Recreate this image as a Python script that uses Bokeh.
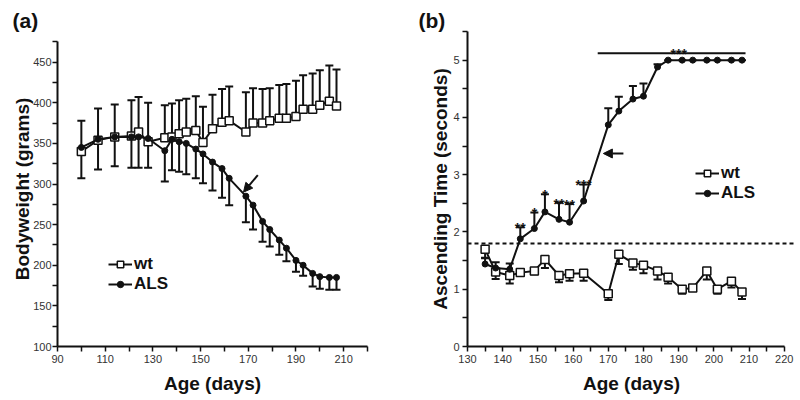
from bokeh.plotting import figure
from bokeh.layouts import row
from bokeh.models import (ColumnDataSource, Whisker, TeeHead, FixedTicker, Span,
                          Arrow, NormalHead, Legend, LegendItem)
from bokeh.core.properties import value
from bokeh.embed import file_html
from bokeh.resources import INLINE

FONT = "Liberation Sans"

# ---------------- Panel (a): body weight ----------------
a_days = [100, 107, 114, 121, 124, 128, 135, 138, 141, 144, 148, 151, 155, 159,
          162, 169, 172, 176, 179, 183, 186, 190, 193, 197, 200, 204, 207]
a_wt = [340, 354, 358, 359, 364, 352, 357, 358, 362, 364, 366, 351, 368, 376,
        378, 364, 375, 375, 378, 381, 381, 383, 392, 392, 397, 402, 396]
a_wt_err = [38, 39, 40, 44, 43, 48, 40, 41, 41, 41, 42, 44, 42, 41,
            42, 49, 43, 42, 40, 41, 42, 44, 42, 44, 43, 44, 45]
a_als = [345, 355, 358, 358, 358, 356, 341, 355, 352, 350, 343, 337, 327, 319,
         307, 285, 274, 254, 244, 231, 221, 206, 200, 190, 186, 185, 185]
a_als_err = [38, 37, 36, 38, 38, 36, 38, 38, 37, 38, 36, 36, 35, 36,
             33, 32, 30, 25, 21, 18, 16, 14, 13, 16, 15, 15, 15]
a_arrow = dict(x_start=174, y_start=311, x_end=168, y_end=290)

a_xticks = [90, 110, 130, 150, 170, 190, 210]
a_xminor = [100, 120, 140, 160, 180, 200, 220]
a_yticks = [100, 150, 200, 250, 300, 350, 400, 450]
a_yminor = [125, 175, 225, 275, 325, 375, 425, 475]

# ---------------- Panel (b): ascending time ----------------
b_days = [135, 138, 142, 145, 149, 152, 156, 159, 163, 170, 173, 177, 180, 184,
          187, 191, 194, 198, 201, 205, 208]
b_wt = [1.70, 1.30, 1.24, 1.29, 1.32, 1.52, 1.24, 1.27, 1.28, 0.92, 1.61, 1.46,
        1.42, 1.32, 1.21, 1.00, 1.02, 1.32, 1.00, 1.14, 0.95]
b_wt_err = [0.15, 0.12, 0.14, 0.05, 0.06, 0.15, 0.12, 0.12, 0.13, 0.11, 0.17,
            0.12, 0.14, 0.15, 0.11, 0.08, 0.05, 0.15, 0.08, 0.11, 0.12]
b_als = [1.44, 1.37, 1.35, 1.88, 2.06, 2.35, 2.22, 2.17, 2.54, 3.87, 4.11, 4.32,
         4.37, 4.88, 5.0, 5.0, 5.0, 5.0, 5.0, 5.0, 5.0]
b_als_err = [0.10, 0.10, 0.10, 0.20, 0.28, 0.31, 0.29, 0.32, 0.29, 0.29, 0.25,
             0.23, 0.22, 0.05, 0.0, 0.0, 0.0, 0.0, 0.0, 0.0, 0.0]
b_star_days = [145, 149, 152, 156, 159, 163]
b_star_text = ["**", "*", "*", "**", "**", "***"]
b_threshold = 1.8
b_plateau = dict(x0=167, x1=209, y=5.12, text="***")
b_arrow = dict(x_start=174.3, y_start=3.37, x_end=168.6, y_end=3.37)

b_xticks = [130, 140, 150, 160, 170, 180, 190, 200, 210, 220]
b_xminor = [135, 145, 155, 165, 175, 185, 195, 205, 215]
b_yticks = [0, 1, 2, 3, 4, 5]
b_yminor = [0.5, 1.5, 2.5, 3.5, 4.5, 5.5]

INK = "#111111"


def style_axes(p, xt, xm, yt, ym, xlabel, ylabel, ystand_tick, ystand_label):
    p.xaxis.ticker = FixedTicker(ticks=xt, minor_ticks=xm)
    p.yaxis.ticker = FixedTicker(ticks=yt, minor_ticks=ym)
    p.xaxis.axis_label = xlabel
    p.yaxis.axis_label = ylabel
    for ax in (p.xaxis, p.yaxis):
        ax.axis_line_width = 2
        ax.axis_line_color = INK
        ax.major_tick_line_color = INK
        ax.minor_tick_line_color = INK
        ax.major_tick_line_width = 1.5
        ax.minor_tick_line_width = 1.5
        ax.major_tick_out = 5
        ax.major_tick_in = 0
        ax.minor_tick_out = 5
        ax.minor_tick_in = 0
        ax.major_label_text_font = FONT
        ax.major_label_text_font_size = "11px"
        ax.major_label_text_color = "#333333"
        ax.axis_label_text_font = FONT
        ax.axis_label_text_font_size = "19px"
        ax.axis_label_text_font_style = "bold"
        ax.axis_label_text_color = INK
    p.xaxis.major_label_standoff = 3
    p.xaxis.axis_label_standoff = 7
    p.yaxis.major_label_standoff = ystand_tick
    p.yaxis.axis_label_standoff = ystand_label
    p.xgrid.visible = False
    p.ygrid.visible = False
    p.outline_line_color = None


def style_title(p, text, offset, standoff):
    p.title.text = text
    p.title.align = "left"
    p.title.offset = offset
    p.title.standoff = standoff
    p.title.text_font = FONT
    p.title.text_font_size = "21px"
    p.title.text_font_style = "bold"
    p.title.text_color = INK


def make_legend(p, items, loc):
    lg = Legend(items=items, location=loc)
    lg.border_line_color = None
    lg.background_fill_alpha = 0
    lg.padding = 0
    lg.margin = 0
    lg.spacing = 0
    lg.glyph_width = 24
    lg.glyph_height = 16
    lg.label_height = 16
    lg.label_standoff = 2
    lg.label_text_font = FONT
    lg.label_text_font_size = "17px"
    lg.label_text_font_style = "bold"
    lg.label_text_color = INK
    lg.label_text_baseline = "middle"
    p.add_layout(lg)


# ---------- figure (a) ----------
# frame spans 31..346 px; the axis line itself is bounded to 100..475
p1 = figure(width=400, height=400, x_range=(90, 220), y_range=(100, 487.7),
            output_backend="svg", toolbar_location=None,
            min_border_left=57, min_border_right=33, min_border_top=31,
            min_border_bottom=54)
style_axes(p1, a_xticks, a_xminor, a_yticks, a_yminor,
           "Age (days)", "Bodyweight (grams)", 1, -3)
style_title(p1, "(a)", -45, -1)
p1.yaxis.bounds = (100, 475)

sa_wt = ColumnDataSource(dict(x=a_days, y=a_wt,
                              up=[v + e for v, e in zip(a_wt, a_wt_err)]))
sa_als = ColumnDataSource(dict(x=a_days, y=a_als,
                               lo=[v - e for v, e in zip(a_als, a_als_err)]))
p1.add_layout(Whisker(base="x", upper="up", lower="y", source=sa_wt,
                      line_width=2, line_color=INK, lower_head=None,
                      upper_head=TeeHead(size=8, line_width=2, line_color=INK)))
p1.add_layout(Whisker(base="x", upper="y", lower="lo", source=sa_als,
                      line_width=2, line_color=INK, upper_head=None,
                      lower_head=TeeHead(size=8, line_width=2, line_color=INK)))
l1w = p1.line("x", "y", source=sa_wt, line_width=2, line_color=INK)
s1w = p1.scatter("x", "y", source=sa_wt, marker="square", size=8,
                 fill_color="white", line_color=INK, line_width=1.5)
l1a = p1.line("x", "y", source=sa_als, line_width=2, line_color=INK)
s1a = p1.scatter("x", "y", source=sa_als, marker="circle", size=6,
                 fill_color=INK, line_color=INK)
p1.add_layout(Arrow(end=NormalHead(size=9, fill_color=INK, line_color=INK),
                    line_width=2, line_color=INK, **a_arrow))
make_legend(p1, [LegendItem(label="wt", renderers=[l1w, s1w]),
                 LegendItem(label="ALS", renderers=[l1a, s1a])], (51, 52))

# ---------- figure (b) ----------
p2 = figure(width=400, height=400, x_range=(130, 223.2), y_range=(0, 5.5),
            output_backend="svg", toolbar_location=None,
            min_border_left=67, min_border_right=5, min_border_top=31,
            min_border_bottom=54)
style_axes(p2, b_xticks, b_xminor, b_yticks, b_yminor,
           "Age (days)", "Ascending Time (seconds)", 3, -1)
style_title(p2, "(b)", -49, -1)
p2.xaxis.bounds = (130, 220)

sb_wt = ColumnDataSource(dict(x=b_days, y=b_wt,
                              lo=[v - e for v, e in zip(b_wt, b_wt_err)]))
sb_als = ColumnDataSource(dict(x=b_days, y=b_als,
                               up=[v + e for v, e in zip(b_als, b_als_err)]))
p2.add_layout(Span(location=b_threshold, dimension="width", line_dash="4 3",
                   line_width=2, line_color=INK))
p2.add_layout(Whisker(base="x", upper="y", lower="lo", source=sb_wt,
                      line_width=2, line_color=INK, upper_head=None,
                      lower_head=TeeHead(size=8, line_width=2, line_color=INK)))
p2.add_layout(Whisker(base="x", upper="up", lower="y", source=sb_als,
                      line_width=2, line_color=INK, lower_head=None,
                      upper_head=TeeHead(size=8, line_width=2, line_color=INK)))
l2w = p2.line("x", "y", source=sb_wt, line_width=2, line_color=INK)
s2w = p2.scatter("x", "y", source=sb_wt, marker="square", size=8,
                 fill_color="white", line_color=INK, line_width=1.5)
l2a = p2.line("x", "y", source=sb_als, line_width=2, line_color=INK)
s2a = p2.scatter("x", "y", source=sb_als, marker="circle", size=6,
                 fill_color=INK, line_color=INK)

star_y = [b_als[b_days.index(d)] + b_als_err[b_days.index(d)] for d in b_star_days]
p2.text(x=b_star_days, y=star_y, text=b_star_text, text_align="center",
        text_baseline="alphabetic", y_offset=1, text_font=value(FONT),
        text_font_size="14px", text_font_style="bold", text_color=INK)
p2.segment(x0=[b_plateau["x0"]], y0=[b_plateau["y"]], x1=[b_plateau["x1"]],
           y1=[b_plateau["y"]], line_width=2, line_color=INK)
p2.text(x=[(b_plateau["x0"] + b_plateau["x1"]) / 2 + 2], y=[b_plateau["y"]],
        text=[b_plateau["text"]], text_align="center", text_baseline="alphabetic",
        y_offset=1, text_font=value(FONT), text_font_size="14px",
        text_font_style="bold", text_color=INK)
p2.add_layout(Arrow(end=NormalHead(size=9, fill_color=INK, line_color=INK),
                    line_width=2, line_color=INK, **b_arrow))
make_legend(p2, [LegendItem(label="wt", renderers=[l2w, s2w]),
                 LegendItem(label="ALS", renderers=[l2a, s2a])], (228, 143))

layout = row(p1, p2)
open("out.html", "w").write(file_html(layout, INLINE))
